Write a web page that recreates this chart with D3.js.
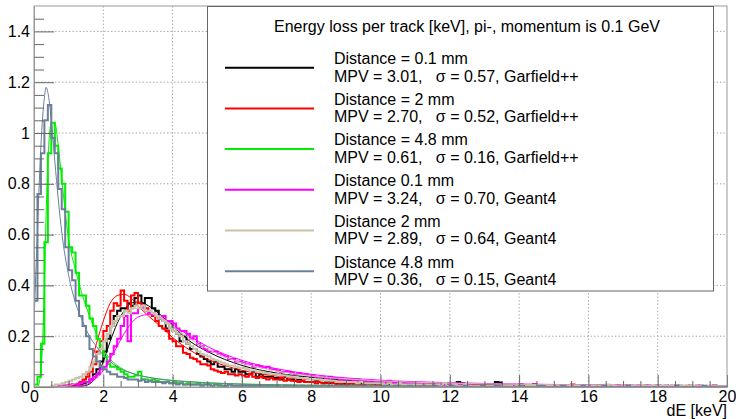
<!DOCTYPE html>
<html>
<head>
<meta charset="utf-8">
<script src="https://cdn.jsdelivr.net/npm/d3@7"></script>
<style>
  body { margin: 0; background: #fff; }
  text { font-family: "Liberation Sans", Arial, sans-serif; font-size: 16px; fill: #000; }
</style>
</head>
<body>
<svg id="chart" width="736" height="419"></svg>
<script>
// histograms: 200 bins of 0.1 keV from 0 to 20 keV
const binWidth = 0.1
const xTicks = [0, 2, 4, 6, 8, 10, 12, 14, 16, 18, 20]
const yTicks = [0, 0.2, 0.4, 0.6, 0.8, 1, 1.2, 1.4]

const garfield01 = [
  0,0,0,0,0,0,0,0,0.005,0.005,
  0.005,0.005,0.01,0.01,0.015,0.02,0.03,0.05,0.07,0.10,
  0.14,0.19,0.24,0.28,0.30,0.31,0.31,0.33,0.32,0.35,
  0.36,0.33,0.35,0.35,0.31,0.30,0.27,0.26,0.23,0.25,
  0.22,0.21,0.18,0.20,0.17,0.15,0.15,0.13,0.12,0.11,
  0.10,0.09,0.10,0.08,0.08,0.07,0.07,0.06,0.07,0.06,
  0.06,0.05,0.05,0.06,0.04,0.05,0.04,0.04,0.04,0.035,
  0.035,0.03,0.04,0.03,0.03,0.025,0.03,0.025,0.02,0.02,
  0.02,0.025,0.02,0.015,0.02,0.015,0.02,0.015,0.01,0.015,
  0.01,0.015,0.01,0.01,0.015,0.01,0.01,0.01,0.01,0.005,
  0.02,0.015,0.01,0.005,0.01,0.005,0.01,0.005,0.005,0.01,
  0.005,0.01,0.005,0.005,0.01,0.005,0.005,0.005,0.01,0.005,
  0.005,0.01,0.02,0.015,0.005,0.005,0.005,0.005,0,0.005,
  0.005,0.005,0.01,0.02,0.018,0.005,0.005,0,0.005,0.005,
  0.01,0.005,0,0.005,0.01,0.005,0.005,0,0.005,0,
  0.005,0.005,0,0.005,0,0.005,0,0.005,0.005,0,
  0.005,0,0,0.005,0,0.005,0,0,0.005,0,
  0.005,0,0.005,0,0,0,0.005,0,0,0.005,
  0,0,0.005,0,0,0.005,0,0,0,0.005,
  0,0,0.005,0,0,0,0.005,0,0,0
]
const garfield2 = [
  0,0,0,0,0,0,0,0,0,0.005,
  0.005,0.01,0.01,0.02,0.03,0.04,0.06,0.09,0.14,0.18,
  0.22,0.24,0.30,0.33,0.32,0.38,0.34,0.30,0.36,0.37,
  0.33,0.32,0.31,0.29,0.28,0.26,0.24,0.23,0.22,0.19,
  0.18,0.16,0.16,0.135,0.13,0.115,0.11,0.10,0.09,0.09,
  0.085,0.07,0.065,0.06,0.055,0.06,0.05,0.05,0.045,0.05,
  0.045,0.04,0.05,0.04,0.035,0.04,0.035,0.03,0.035,0.03,
  0.03,0.035,0.025,0.03,0.025,0.025,0.02,0.025,0.02,0.02,
  0.02,0.015,0.02,0.015,0.015,0.02,0.015,0.01,0.015,0.01,
  0.01,0.015,0.01,0.01,0.01,0.005,0.01,0.01,0.005,0.01,
  0.005,0.01,0.005,0.005,0.01,0.005,0.005,0.01,0.005,0.005,
  0.005,0.005,0.01,0.005,0,0.005,0.005,0.005,0,0.005,
  0.005,0,0.005,0.005,0,0.005,0,0.005,0.005,0,
  0.005,0,0.005,0,0.005,0,0.005,0,0,0.005,
  0,0.005,0,0.005,0.01,0.005,0,0.005,0,0,
  0.005,0,0,0.005,0,0.01,0.005,0,0,0.005,
  0,0,0.005,0,0,0.005,0,0,0.005,0,
  0,0.005,0,0,0.005,0,0,0.005,0,0,
  0.005,0,0,0,0.005,0,0,0,0.005,0,
  0,0.005,0,0,0,0,0.005,0,0,0
]
const garfield48 = [
  0.01,0.04,0.17,0.57,0.92,1.04,0.95,0.86,0.80,0.69,
  0.55,0.53,0.45,0.36,0.36,0.32,0.27,0.24,0.19,0.15,
  0.12,0.09,0.08,0.08,0.07,0.06,0.05,0.04,0.04,0.045,
  0.06,0.03,0.03,0.025,0.03,0.025,0.02,0.02,0.02,0.015,
  0.02,0.015,0.015,0.01,0.015,0.01,0.01,0.015,0.01,0.01,
  0.01,0.005,0.01,0.01,0.005,0.005,0.01,0.005,0.005,0.005,
  0.005,0.005,0,0.005,0.005,0,0.005,0.005,0,0.005,
  0.005,0,0.005,0,0.005,0,0,0.005,0,0.005,
  0,0.005,0,0,0.005,0,0,0,0.005,0,
  0,0,0.005,0,0,0,0.005,0,0,0,
  0,0,0,0.005,0,0,0,0,0.005,0,
  0,0,0,0,0,0.005,0,0,0,0,
  0,0.005,0,0,0,0,0,0,0,0,
  0,0,0,0,0.005,0,0,0,0,0,
  0,0,0,0,0,0,0,0.005,0,0,
  0,0,0,0,0,0,0,0,0,0,
  0,0,0.005,0,0,0,0,0,0,0,
  0,0,0,0,0,0,0,0,0,0,
  0,0,0,0,0,0,0.005,0,0,0,
  0,0,0,0,0,0,0,0,0,0
]
const geant01 = [
  0,0,0,0,0,0,0,0.005,0.005,0.005,
  0.01,0.01,0.01,0.015,0.02,0.02,0.03,0.04,0.05,0.07,
  0.08,0.10,0.13,0.16,0.19,0.24,0.28,0.18,0.29,0.29,
  0.31,0.31,0.30,0.29,0.29,0.28,0.27,0.28,0.26,0.26,
  0.25,0.23,0.22,0.22,0.21,0.19,0.20,0.17,0.16,0.15,
  0.14,0.14,0.14,0.13,0.125,0.12,0.11,0.11,0.10,0.10,
  0.095,0.09,0.09,0.08,0.085,0.08,0.075,0.08,0.07,0.07,
  0.065,0.06,0.06,0.06,0.055,0.05,0.055,0.05,0.05,0.045,
  0.045,0.04,0.04,0.04,0.035,0.04,0.035,0.035,0.03,0.03,
  0.03,0.03,0.025,0.03,0.025,0.025,0.02,0.025,0.02,0.02,
  0.02,0.02,0.025,0.02,0.015,0.02,0.015,0.015,0.015,0.015,
  0.015,0.01,0.015,0.01,0.01,0.01,0.01,0.01,0.01,0.005,
  0.01,0.005,0.01,0.005,0.005,0.01,0.005,0.005,0.005,0.005,
  0.005,0.005,0.005,0,0.005,0.005,0.005,0,0.005,0.005,
  0.005,0,0.005,0.005,0,0.005,0,0.005,0.005,0,
  0.005,0,0.005,0,0.005,0,0.005,0,0.005,0,
  0.005,0,0,0.005,0,0.005,0,0,0.005,0,
  0,0.005,0,0,0.005,0,0,0.005,0,0,
  0.005,0,0,0.005,0,0,0.005,0,0,0,
  0,0.005,0,0,0,0.005,0,0,0,0
]
const geant2 = [
  0,0,0,0,0,0.005,0.01,0.01,0.015,0.02,
  0.025,0.03,0.035,0.04,0.05,0.06,0.08,0.10,0.13,0.15,
  0.18,0.21,0.24,0.26,0.28,0.28,0.30,0.29,0.31,0.32,
  0.31,0.32,0.30,0.30,0.29,0.28,0.27,0.26,0.25,0.23,
  0.22,0.21,0.20,0.18,0.17,0.16,0.15,0.14,0.13,0.125,
  0.12,0.11,0.105,0.10,0.095,0.09,0.085,0.085,0.08,0.075,
  0.075,0.07,0.065,0.065,0.06,0.06,0.055,0.055,0.05,0.05,
  0.05,0.045,0.045,0.04,0.04,0.04,0.035,0.035,0.035,0.03,
  0.03,0.03,0.03,0.025,0.025,0.025,0.025,0.02,0.02,0.02,
  0.02,0.02,0.02,0.015,0.02,0.015,0.015,0.015,0.015,0.015,
  0.015,0.01,0.015,0.01,0.01,0.015,0.01,0.01,0.01,0.01,
  0.01,0.01,0.005,0.01,0.01,0.005,0.01,0.005,0.015,0.005,
  0.005,0.01,0.005,0.005,0.01,0.005,0.005,0.005,0.005,0.005,
  0.005,0.005,0.005,0.005,0,0.005,0.005,0.005,0,0.005,
  0.005,0,0.005,0.005,0.005,0,0.005,0,0.005,0.005,
  0,0.005,0.005,0,0.005,0,0.005,0.005,0,0.005,
  0,0.005,0,0.005,0,0.01,0,0.005,0,0,
  0.005,0,0.005,0,0,0.005,0,0,0.005,0,
  0,0.005,0,0,0.005,0,0,0.005,0,0,
  0.005,0,0,0,0.005,0,0,0,0,0
]
const geant48 = [
  0.34,0.76,0.92,1.05,1.11,0.98,0.92,0.78,0.70,0.55,
  0.46,0.42,0.34,0.28,0.24,0.20,0.15,0.12,0.10,0.08,
  0.07,0.06,0.05,0.05,0.04,0.04,0.035,0.03,0.03,0.03,
  0.025,0.03,0.02,0.025,0.02,0.02,0.02,0.015,0.02,0.015,
  0.015,0.01,0.015,0.01,0.01,0.01,0.01,0.01,0.005,0.01,
  0.01,0.005,0.01,0.005,0.005,0.005,0.01,0.005,0.005,0.005,
  0.005,0.005,0.005,0,0.005,0.005,0,0.005,0.005,0,
  0.005,0,0.005,0.005,0,0.005,0,0.005,0,0.005,
  0,0.005,0,0.005,0,0,0.005,0,0.005,0,
  0.005,0,0,0.005,0,0.005,0,0,0.005,0,
  0,0.005,0,0,0.005,0,0,0,0.005,0,
  0,0,0.005,0,0,0.005,0,0,0,0,
  0.005,0,0,0,0.005,0,0,0,0,0.005,
  0,0,0,0.005,0,0,0,0,0,0,
  0.005,0,0,0,0,0,0.005,0,0,0,
  0,0,0.005,0,0,0,0,0,0.005,0,
  0,0,0,0,0.005,0,0,0,0,0,
  0,0.005,0,0,0,0,0,0,0,0,
  0,0,0,0,0,0.005,0,0,0,0,
  0,0,0,0.005,0,0,0,0,0,0
]

// fitted curves, sampled at fitX (keV)
const fitX = [0,0.1,0.2,0.3,0.35,0.4,0.5,0.6,0.7,0.8,1.0,1.2,1.4,1.6,1.8,2.0,2.2,2.4,2.6,2.8,3.0,3.3,3.6,4.0,4.5,5.0,6.0,7.0,8.0,10,12,15,20]
const garfield01Fit = [0,0,0,0,0,0,0,0,0,0,0,0.001,0.003,0.012,0.04,0.10,0.18,0.25,0.30,0.33,0.335,0.32,0.29,0.24,0.18,0.14,0.085,0.055,0.038,0.02,0.012,0.007,0.004]
const garfield2Fit = [0,0,0,0,0,0,0,0,0,0,0,0.003,0.015,0.07,0.17,0.26,0.33,0.36,0.365,0.35,0.32,0.28,0.245,0.195,0.145,0.11,0.066,0.043,0.03,0.016,0.01,0.006,0.003]
const garfield48Fit = [0,0,0.06,0.40,0.68,0.88,1.04,1.04,0.95,0.82,0.58,0.46,0.36,0.28,0.21,0.15,0.11,0.085,0.068,0.056,0.047,0.038,0.032,0.026,0.021,0.017,0.012,0.009,0.007,0.005,0.003,0.002,0.001]
const geant01Fit = [0,0,0,0,0,0,0,0,0,0,0,0.002,0.005,0.015,0.035,0.065,0.11,0.16,0.21,0.25,0.275,0.285,0.275,0.245,0.20,0.16,0.105,0.072,0.05,0.027,0.017,0.01,0.005]
const geant2Fit = [0,0,0,0,0,0,0,0,0,0.002,0.005,0.015,0.035,0.07,0.12,0.17,0.22,0.26,0.29,0.305,0.31,0.30,0.28,0.24,0.19,0.15,0.095,0.063,0.044,0.024,0.015,0.009,0.005]
const geant48Fit = [0.25,0.62,0.95,1.14,1.18,1.16,1.05,0.89,0.74,0.61,0.44,0.33,0.26,0.20,0.16,0.125,0.1,0.08,0.065,0.055,0.047,0.038,0.031,0.025,0.02,0.016,0.011,0.008,0.006,0.004,0.003,0.002,0.001]

const legendTitle = 'Energy loss per track [keV], pi-, momentum is 0.1 GeV'
const legendNames = ['Distance = 0.1 mm', 'Distance = 2 mm', 'Distance = 4.8 mm', 'Distance 0.1 mm', 'Distance 2 mm', 'Distance 4.8 mm']
const legendInfo = [
  'MPV = 3.01,   σ = 0.57, Garfield++',
  'MPV = 2.70,   σ = 0.52, Garfield++',
  'MPV = 0.61,   σ = 0.16, Garfield++',
  'MPV = 3.24,   σ = 0.70, Geant4',
  'MPV = 2.89,   σ = 0.64, Geant4',
  'MPV = 0.36,   σ = 0.15, Geant4'
]
const colors = ['#000000', '#ff0000', '#00ee00', '#ff00ff', '#c9c2aa', '#6b7f99']

const hists = [garfield01, garfield2, garfield48, geant01, geant2, geant48]
const fits = [garfield01Fit, garfield2Fit, garfield48Fit, geant01Fit, geant2Fit, geant48Fit]

// layout
const plot = {left: 34, right: 727, top: 6, bottom: 387}
const x = d3.scaleLinear().domain([0, 20]).range([plot.left, plot.right])
const y = d3.scaleLinear().domain([0, 1.5]).range([plot.bottom, plot.top])

const svg = d3.select('#chart')

svg.append('defs').append('clipPath').attr('id', 'clip')
  .append('rect')
  .attr('x', plot.left).attr('y', plot.top)
  .attr('width', plot.right - plot.left).attr('height', plot.bottom - plot.top)

// grid
const grid = svg.append('g').attr('stroke', '#aaa').attr('stroke-dasharray', '1.5,2')
grid.selectAll('.gx').data(xTicks.slice(1, -1)).join('line')
  .attr('x1', d => x(d)).attr('x2', d => x(d))
  .attr('y1', plot.top).attr('y2', plot.bottom)
grid.selectAll('.gy').data(yTicks.slice(1)).join('line')
  .attr('x1', plot.left).attr('x2', plot.right)
  .attr('y1', d => y(d)).attr('y2', d => y(d))

// histograms and fits
const histLine = d3.line().x(d => x(d[0])).y(d => y(d[1])).curve(d3.curveStepAfter)
const fitLine = d3.line().x(d => x(d[0])).y(d => y(d[1])).curve(d3.curveMonotoneX)

const marks = svg.append('g').attr('clip-path', 'url(#clip)')
hists.forEach((h, k) => {
  const pts = [[0, 0]].concat(h.map((v, i) => [i * binWidth, v]), [[h.length * binWidth, h[h.length - 1]]])
  marks.append('path')
    .attr('d', histLine(pts))
    .attr('fill', 'none')
    .attr('stroke', colors[k])
    .attr('stroke-width', 2)
  marks.append('path')
    .attr('d', fitLine(fitX.map((e, i) => [e, fits[k][i]])))
    .attr('fill', 'none')
    .attr('stroke', colors[k])
    .attr('stroke-width', 1)
})

// axes
const xMinor = d3.range(0.5, 20, 0.5).filter(d => d % 2 !== 0)
const yMinor = d3.range(0.05, 1.5, 0.05).filter(d => Math.abs(d / 0.2 - Math.round(d / 0.2)) > 1e-6)

const xAxis = svg.append('g').attr('transform', `translate(0,${plot.bottom})`)
  .call(d3.axisBottom(x).tickValues(xTicks).tickSize(-12).tickSizeOuter(0).tickPadding(4).tickFormat(d3.format('d')))
xAxis.append('g').call(d3.axisBottom(x).tickValues(xMinor).tickSize(-6).tickFormat(''))
  .select('.domain').remove()

const yAxis = svg.append('g').attr('transform', `translate(${plot.left},0)`)
  .call(d3.axisLeft(y).tickValues(yTicks).tickSize(-20).tickSizeOuter(0).tickPadding(4).tickFormat(d3.format('')))
yAxis.append('g').call(d3.axisLeft(y).tickValues(yMinor).tickSize(-10).tickFormat(''))
  .select('.domain').remove()

svg.selectAll('.tick line').attr('stroke', '#666')
svg.selectAll('.domain').attr('stroke', '#999')

// frame
svg.append('rect')
  .attr('x', plot.left).attr('y', plot.top)
  .attr('width', plot.right - plot.left).attr('height', plot.bottom - plot.top)
  .attr('fill', 'none').attr('stroke', '#999')

svg.append('text')
  .attr('x', plot.right).attr('y', 416)
  .attr('text-anchor', 'end')
  .text('dE [keV]')

// legend
const legend = svg.append('g')
legend.append('rect')
  .attr('x', 207.5).attr('y', 6.5).attr('width', 506).attr('height', 284.5)
  .attr('fill', '#fff').attr('stroke', '#666')
legend.append('text')
  .attr('x', 467).attr('y', 32)
  .attr('text-anchor', 'middle')
  .text(legendTitle)
const entries = legend.selectAll('.entry').data(legendNames).join('g')
  .attr('transform', (d, i) => `translate(0,${i * 40.7})`)
entries.append('line')
  .attr('x1', 225).attr('x2', 314).attr('y1', 67.7).attr('y2', 67.7)
  .attr('stroke', (d, i) => colors[i]).attr('stroke-width', 2)
entries.append('text').attr('x', 334).attr('y', 64).text(d => d)
entries.append('text').attr('x', 334).attr('y', 81.7)
  .style('white-space', 'pre')
  .text((d, i) => legendInfo[i])
</script>
</body>
</html>
